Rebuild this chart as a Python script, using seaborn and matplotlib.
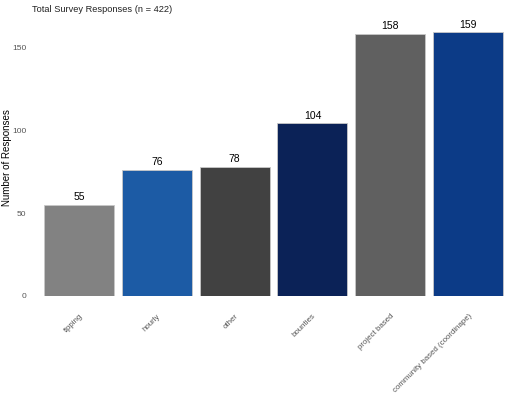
import pandas as pd
from matplotlib import pyplot as plt
from matplotlib import transforms
import seaborn as sns

categories = ['tipping', 'hourly', 'other', 'bounties', 'project based', 'community based (coordinape)']
responses = [55, 76, 78, 104, 158, 159]
colors = ['#828282', '#1c5ba5', '#414141', '#0b2257', '#606060', '#0c3b87']
y_ticks = [0, 50, 100, 150]

df = pd.DataFrame({'method': categories, 'count': responses})

sns.set_style('white')
plt.rcParams['font.family'] = ['Liberation Sans', 'DejaVu Sans']

fig = plt.figure(figsize=(5.2, 4), dpi=100)
ax = fig.add_axes([40 / 520, 1 - 296 / 400, 467 / 520, 277 / 400])

sns.barplot(data=df, x='method', y='count', hue='method', palette=colors,
            saturation=1, width=0.9, edgecolor='#c8c8c8', linewidth=0.6,
            legend=False, ax=ax)

for i, v in enumerate(responses):
    ax.text(i, v + 1.5, str(v), ha='center', va='bottom', fontsize=7.5, color='black')

ax.set_ylim(0, 167)
ax.set_xlim(-0.5, len(categories) - 0.5)
ax.set_yticks(y_ticks)
ax.tick_params(axis='y', labelsize=6, colors='#555555', length=0, pad=10)
ax.tick_params(axis='x', length=0, pad=12)
shift = transforms.ScaledTranslation(5 / 100, 0, fig.dpi_scale_trans)
for lbl in ax.get_xticklabels():
    lbl.set_rotation(45)
    lbl.set_ha('right')
    lbl.set_va('top')
    lbl.set_fontsize(5.7)
    lbl.set_color('#555555')
    lbl.set_transform(lbl.get_transform() + shift)
ax.set_xlabel('')
ax.set_ylabel('Number of Responses', fontsize=7, color='black')
ax.yaxis.set_label_coords(-28 / 467, 0.5)
sns.despine(left=True, bottom=True)
ax.grid(False)

fig.text(32 / 520, 1 - 9 / 400, 'Total Survey Responses (n = 422)', fontsize=6.7,
         ha='left', va='center', color='#222222')

fig.savefig('out.png', dpi=100)
